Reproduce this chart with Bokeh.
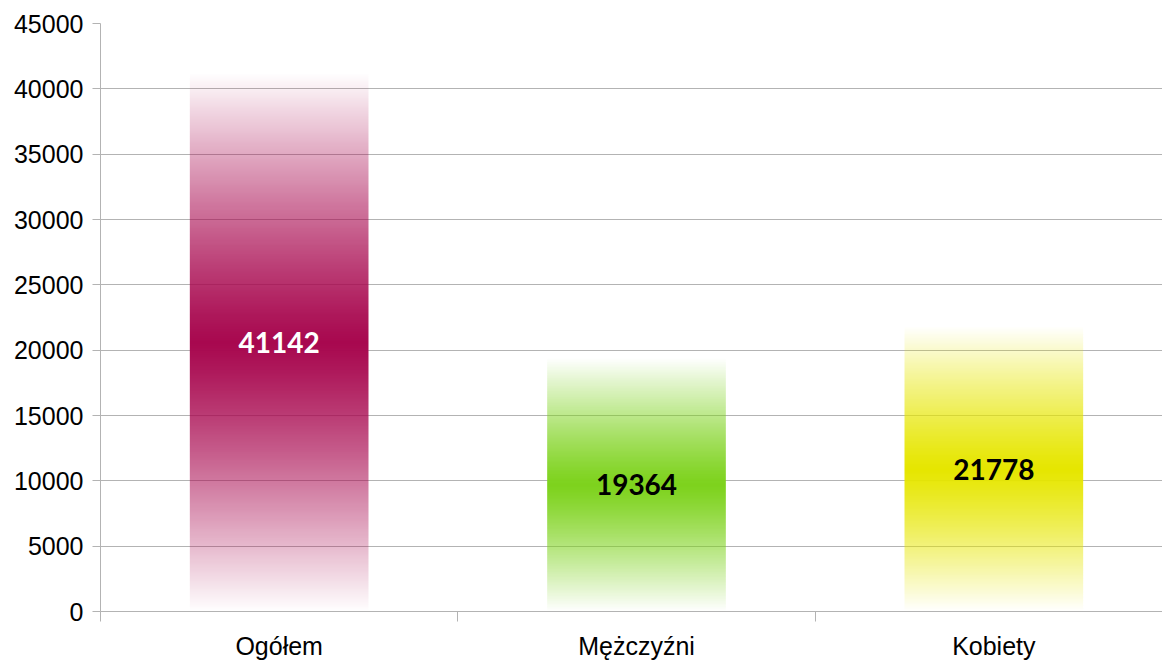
import numpy as np
from bokeh.plotting import figure
from bokeh.models import FixedTicker, ColumnDataSource, Range1d
from bokeh.core.properties import value
from bokeh.embed import file_html
from bokeh.resources import INLINE

categories = ["Ogółem", "Mężczyźni", "Kobiety"]
values = [41142, 19364, 21778]
colors = [(168, 8, 79), (125, 210, 28), (230, 230, 0)]
label_colors = ["#ffffff", "#000000", "#000000"]
y_ticks = [0, 5000, 10000, 15000, 20000, 25000, 30000, 35000, 40000, 45000]

BAR_W = 0.5
ROWS = 600


def axial_gradient(rgb, rows=ROWS):
    """Vertical axial gradient: transparent at both ends, full colour in the middle."""
    d = np.abs((np.arange(rows) + 0.5) / rows * 2 - 1)
    alpha = np.clip(1 - d ** 1.2, 0, 1)
    img = np.zeros((rows, 1, 4), dtype=np.uint8)
    img[:, 0, 0] = rgb[0]
    img[:, 0, 1] = rgb[1]
    img[:, 0, 2] = rgb[2]
    img[:, 0, 3] = np.round(alpha * 255).astype(np.uint8)
    return img.view(dtype=np.uint32).reshape((rows, 1))


p = figure(width=1162, height=662, output_backend="svg", toolbar_location=None,
           x_range=Range1d(0, 2.972), y_range=Range1d(0, 45000),
           min_border_left=100, min_border_top=23, min_border_bottom=48, min_border_right=0)
p.outline_line_color = None
p.background_fill_color = "white"
p.border_fill_color = "white"

imgs = [axial_gradient(c) for c in colors]
p.image_rgba(image=imgs,
             x=[i + 0.5 - BAR_W / 2 for i in range(len(values))],
             y=[0] * len(values),
             dw=[BAR_W] * len(values),
             dh=values)

lab = ColumnDataSource(dict(x=[i + 0.5 for i in range(len(values))],
                            y=[v / 2 for v in values],
                            text=[str(v) for v in values],
                            color=label_colors))
p.text(x="x", y="y", text="text", source=lab, text_color="color",
       text_font=value("Lato"), text_font_style="bold", text_font_size="28px",
       text_align="center", text_baseline="middle")

# y axis
p.yaxis.ticker = FixedTicker(ticks=y_ticks)
p.yaxis.axis_line_color = "#b3b3b3"
p.yaxis.major_tick_line_color = "#b3b3b3"
p.yaxis.major_tick_out = 8
p.yaxis.major_tick_in = 0
p.yaxis.minor_tick_line_color = None
p.yaxis.major_label_text_font = "Liberation Sans"
p.yaxis.major_label_text_font_size = "25px"
p.yaxis.major_label_text_color = "#000000"
p.yaxis.major_label_standoff = 9
p.yaxis.formatter.use_scientific = False

# x axis
p.xaxis.ticker = FixedTicker(ticks=[0.5, 1.5, 2.5], minor_ticks=[0, 1, 2, 3])
p.xaxis.major_label_overrides = {0.5: categories[0], 1.5: categories[1], 2.5: categories[2]}
p.xaxis.axis_line_color = "#b3b3b3"
p.xaxis.axis_line_width = 1
p.xaxis.major_tick_line_color = None
p.xaxis.major_tick_out = 0
p.xaxis.major_tick_in = 0
p.xaxis.minor_tick_line_color = "#b3b3b3"
p.xaxis.minor_tick_out = 10
p.xaxis.minor_tick_in = 0
p.xaxis.major_label_text_font = "Liberation Sans"
p.xaxis.major_label_text_font_size = "25px"
p.xaxis.major_label_text_color = "#000000"
p.xaxis.major_label_standoff = 10

p.xgrid.grid_line_color = None
p.ygrid.ticker = FixedTicker(ticks=y_ticks)
p.ygrid.grid_line_color = "#b3b3b3"

open("out.html", "w").write(file_html(p, INLINE))
